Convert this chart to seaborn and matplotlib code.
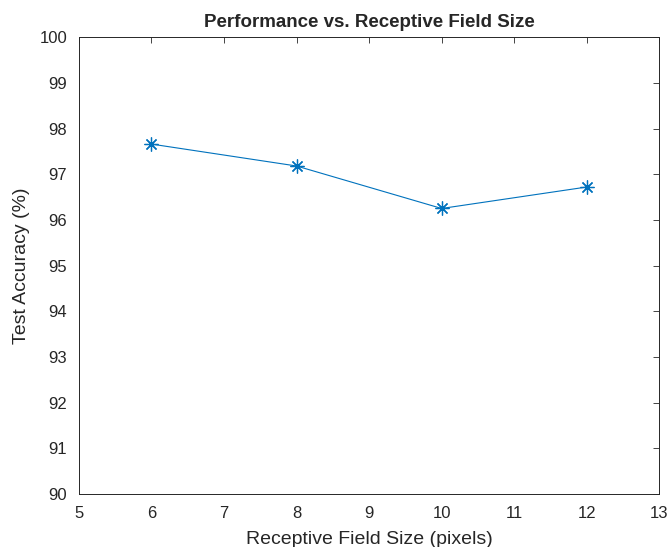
import pandas as pd
import matplotlib
matplotlib.use('Agg')
from matplotlib import pyplot as plt
import seaborn as sns

# values
field_size = [6, 8, 10, 12]
test_accuracy = [97.66, 97.18, 96.25, 96.72]

df = pd.DataFrame({'size': field_size, 'acc': test_accuracy})

sns.set_style('white')
plt.rcParams['font.family'] = ['Liberation Sans', 'DejaVu Sans']

fig = plt.figure(figsize=(6.68, 5.47), dpi=100)
ax = fig.add_axes([0.118, 0.097, 0.869, 0.835])

# matlab-style asterisk: 8 spokes
sns.lineplot(data=df, x='size', y='acc', ax=ax, color='#0072BD',
             marker=(8, 2, 0), markersize=10, markeredgecolor='#0072BD',
             markeredgewidth=0.9, linewidth=0.8)

ax.set_xlim(5, 13)
ax.set_ylim(90, 100)
ax.set_xticks(range(5, 14))
ax.set_yticks(range(90, 101))
ax.tick_params(direction='in', top=True, right=True, length=4.5, width=0.6,
               colors='#262626', labelsize=12)
ax.tick_params(axis='x', pad=9)
ax.tick_params(axis='y', pad=8.5)
for s in ax.spines.values():
    s.set_color('#262626')
    s.set_linewidth(0.7)

ax.set_xlabel('Receptive Field Size (pixels)', fontsize=14, color='#262626', labelpad=7)
ax.set_ylabel('Test Accuracy (%)', fontsize=14, color='#262626', labelpad=6.5)
ax.set_title('Performance vs. Receptive Field Size', fontsize=13.5, fontweight='bold', pad=7)

fig.savefig('out.png', dpi=100)
